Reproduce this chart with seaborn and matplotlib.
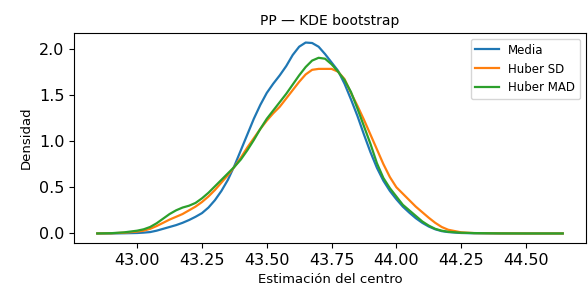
import numpy as np
import pandas as pd
import matplotlib
matplotlib.use("Agg")
import matplotlib.pyplot as plt
import seaborn as sns

# Grid of bootstrap centre estimates (x) and KDE density
x_grid = [42.846, 42.9, 42.95, 43.0, 43.025, 43.05, 43.075, 43.1, 43.125, 43.15,
          43.175, 43.2, 43.225, 43.25, 43.275, 43.3, 43.325, 43.35, 43.375, 43.4,
          43.425, 43.45, 43.475, 43.5, 43.525, 43.55, 43.575, 43.6, 43.625, 43.65,
          43.675, 43.7, 43.725, 43.75, 43.775, 43.8, 43.825, 43.85, 43.875, 43.9,
          43.925, 43.95, 43.975, 44.0, 44.025, 44.05, 44.075, 44.1, 44.125, 44.15,
          44.175, 44.2, 44.25, 44.3, 44.4, 44.5, 44.642]

media = [0.0, 0.0, 0.002, 0.005, 0.009, 0.015, 0.03, 0.05, 0.07, 0.09,
         0.115, 0.145, 0.18, 0.22, 0.28, 0.36, 0.46, 0.58, 0.73, 0.90,
         1.07, 1.24, 1.39, 1.52, 1.62, 1.71, 1.81, 1.93, 2.02, 2.065,
         2.06, 2.02, 1.94, 1.85, 1.76, 1.62, 1.45, 1.27, 1.07, 0.88,
         0.71, 0.57, 0.46, 0.37, 0.29, 0.225, 0.165, 0.115, 0.075, 0.045,
         0.025, 0.015, 0.005, 0.002, 0.0, 0.0, 0.0]

huber_sd = [0.0, 0.002, 0.008, 0.02, 0.03, 0.05, 0.08, 0.115, 0.15, 0.18,
            0.21, 0.25, 0.29, 0.34, 0.40, 0.47, 0.55, 0.63, 0.72, 0.82,
            0.93, 1.03, 1.13, 1.22, 1.30, 1.37, 1.46, 1.55, 1.64, 1.72,
            1.77, 1.78, 1.78, 1.78, 1.75, 1.67, 1.52, 1.38, 1.23, 1.07,
            0.91, 0.75, 0.61, 0.50, 0.43, 0.36, 0.29, 0.23, 0.17, 0.115,
            0.07, 0.04, 0.012, 0.004, 0.001, 0.0, 0.0]

huber_mad = [0.0, 0.003, 0.012, 0.03, 0.045, 0.07, 0.11, 0.16, 0.21, 0.25,
             0.28, 0.30, 0.33, 0.38, 0.44, 0.51, 0.58, 0.65, 0.72, 0.80,
             0.90, 1.01, 1.13, 1.24, 1.33, 1.42, 1.51, 1.61, 1.71, 1.80,
             1.87, 1.90, 1.89, 1.83, 1.75, 1.66, 1.53, 1.35, 1.16, 0.97,
             0.76, 0.60, 0.49, 0.40, 0.31, 0.25, 0.19, 0.13, 0.085, 0.05,
             0.03, 0.018, 0.008, 0.004, 0.001, 0.0, 0.0]

series_names = ["Media", "Huber SD", "Huber MAD"]
series_vals = [media, huber_sd, huber_mad]

df = pd.concat(
    [pd.DataFrame({"x": x_grid, "dens": v, "serie": n}) for n, v in zip(series_names, series_vals)],
    ignore_index=True,
)

fig = plt.figure(figsize=(5.88, 2.98), dpi=100)
ax = fig.add_axes([74 / 588, 55 / 298, 512 / 588, 210 / 298])

palette = {"Media": "#1f77b4", "Huber SD": "#ff7f0e", "Huber MAD": "#2ca02c"}
sns.lineplot(data=df, x="x", y="dens", hue="serie", hue_order=series_names,
             palette=palette, ax=ax, linewidth=1.6, estimator=None)

ax.set_xticks([43.0, 43.25, 43.5, 43.75, 44.0, 44.25, 44.5])
ax.set_xticklabels(["43.00", "43.25", "43.50", "43.75", "44.00", "44.25", "44.50"])
ax.set_yticks([0.0, 0.5, 1.0, 1.5, 2.0])
ax.tick_params(labelsize=11.5)
ax.set_xlabel("Estimación del centro", fontsize=9.5)
ax.set_ylabel("Densidad", fontsize=9.5)
ax.set_title("PP — KDE bootstrap", fontsize=10)
ax.legend(loc="upper right", fontsize=8.5)

fig.savefig("out.png", dpi=100)
